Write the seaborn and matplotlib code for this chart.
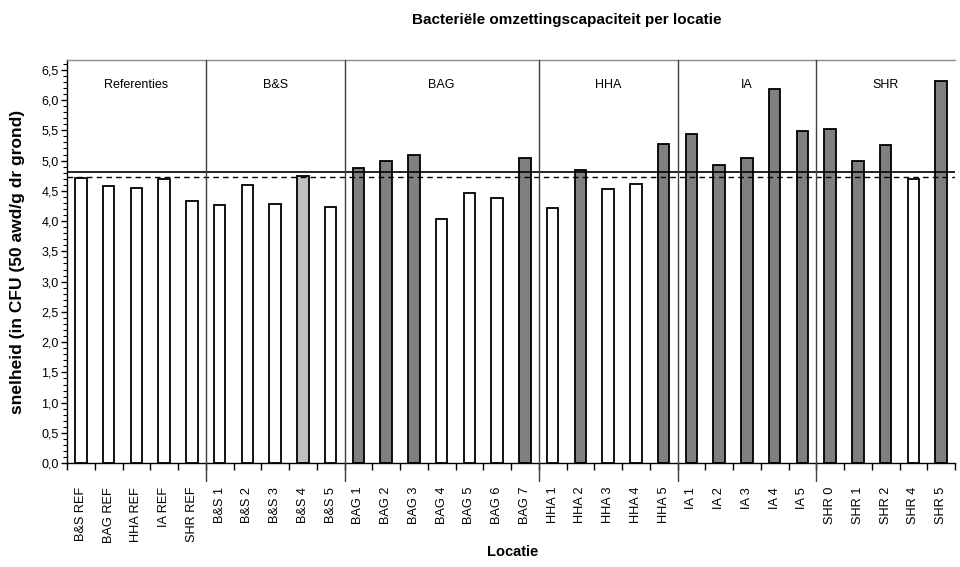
import matplotlib
matplotlib.use("Agg")
import matplotlib.pyplot as plt
import matplotlib.transforms as mtransforms
from matplotlib.ticker import MultipleLocator, FixedLocator, NullFormatter
import seaborn as sns
import pandas as pd

# Locations, grouped by area
locaties = [
    "B&S REF", "BAG REF", "HHA REF", "IA REF", "SHR REF",
    "B&S 1", "B&S 2", "B&S 3", "B&S 4", "B&S 5",
    "BAG 1", "BAG 2", "BAG 3", "BAG 4", "BAG 5", "BAG 6", "BAG 7",
    "HHA 1", "HHA 2", "HHA 3", "HHA 4", "HHA 5",
    "IA 1", "IA 2", "IA 3", "IA 4", "IA 5",
    "SHR 0", "SHR 1", "SHR 2", "SHR 4", "SHR 5",
]
snelheid = [
    4.72, 4.58, 4.55, 4.70, 4.34,
    4.26, 4.59, 4.28, 4.75, 4.24,
    4.88, 4.99, 5.10, 4.03, 4.46, 4.39, 5.04,
    4.22, 4.84, 4.53, 4.62, 5.28,
    5.44, 4.93, 5.05, 6.18, 5.49,
    5.52, 4.99, 5.25, 4.70, 6.32,
]
groepen = ["Referenties", "B&S", "BAG", "HHA", "IA", "SHR"]
groep_grootte = [5, 5, 7, 5, 5, 5]

# Reference levels
grens_boven = 4.81   # solid line
grens_onder = 4.73   # dashed line


def klasse(v):
    if v > grens_boven:
        return "hoog"
    if v > grens_onder:
        return "grens"
    return "laag"


df = pd.DataFrame({"locatie": locaties, "snelheid": snelheid})
df["klasse"] = [klasse(v) for v in snelheid]
kleuren = {"laag": "#FFFFFF", "grens": "#C0C0C0", "hoog": "#808080"}

sns.set_style("white")
plt.rcParams["font.family"] = ["Liberation Sans", "DejaVu Sans"]
plt.rcParams["text.color"] = "black"
plt.rcParams["xtick.color"] = "black"
plt.rcParams["ytick.color"] = "black"

fig = plt.figure(figsize=(9.6, 5.67), dpi=100)
ax = fig.add_axes([0.0698, 0.183, 0.925, 0.711])

sns.barplot(
    data=df, x="locatie", y="snelheid", hue="klasse", palette=kleuren,
    dodge=False, width=0.42, edgecolor="black", linewidth=1.3,
    legend=False, ax=ax, order=locaties,
)

n = len(locaties)
ymax = 6.66
ax.set_xlim(-0.5, n - 0.5)
ax.set_ylim(0, ymax)

# Reference lines
ax.axhline(grens_boven, color="black", lw=1.2, zorder=1)
ax.axhline(grens_onder, color="black", lw=1.0, ls=(0, (4, 3)), zorder=1)

# Spines
ax.spines["right"].set_visible(False)
ax.spines["top"].set_color("#8c8c8c")
ax.spines["top"].set_linewidth(1.0)
for s in ["left", "bottom"]:
    ax.spines[s].set_color("black")
    ax.spines[s].set_linewidth(1.0)

# Y axis ticks
ax.yaxis.set_minor_locator(MultipleLocator(0.1))
ax.set_yticks([i * 0.5 for i in range(14)])
ax.set_yticklabels([f"{i * 0.5:.1f}".replace(".", ",") for i in range(14)])
ax.tick_params(axis="y", which="major", direction="out", length=4, width=1,
               labelsize=9, pad=2, left=True)
ax.tick_params(axis="y", which="minor", direction="out", length=3, width=0.8,
               left=True)

# X axis: labels centred, tick marks between categories
ax.set_xticks(range(n))
ax.set_xticklabels(locaties, rotation=90, fontsize=9.2)
ax.xaxis.set_minor_locator(FixedLocator([i + 0.5 for i in range(-1, n)]))
ax.xaxis.set_minor_formatter(NullFormatter())
ax.tick_params(axis="x", which="major", length=0, pad=17, bottom=True)
ax.tick_params(axis="x", which="minor", direction="out", length=5, width=1,
               bottom=True)
for lbl in ax.get_xticklabels():
    lbl.set_verticalalignment("top")

# Group dividers and group names
trans = mtransforms.blended_transform_factory(ax.transData, ax.transAxes)
start = 0
for i, (naam, k) in enumerate(zip(groepen, groep_grootte)):
    midden = start + (k - 1) / 2
    ax.text(midden, 0.937, naam, transform=trans, ha="center", va="center",
            fontsize=9)
    if i > 0:
        x = start - 0.5
        ax.plot([x, x], [-0.045, 1.0], transform=trans, color="#404040",
                lw=1.0, clip_on=False, zorder=3)
    start += k

ax.set_xlabel("")
ax.set_ylabel("")
fig.text(0.0185, 0.183 + 0.711 / 2, "snelheid (in CFU (50 awd/g dr grond)",
         rotation=90, ha="center", va="center", fontsize=12.5,
         fontweight="bold")
fig.text(0.534, 0.026, "Locatie", ha="center", va="center", fontsize=10.5,
         fontweight="bold")
fig.text(0.59, 0.964, "Bacteriële omzettingscapaciteit per locatie",
         ha="center", va="center", fontsize=11, fontweight="bold")

fig.savefig("out.png", dpi=100)
